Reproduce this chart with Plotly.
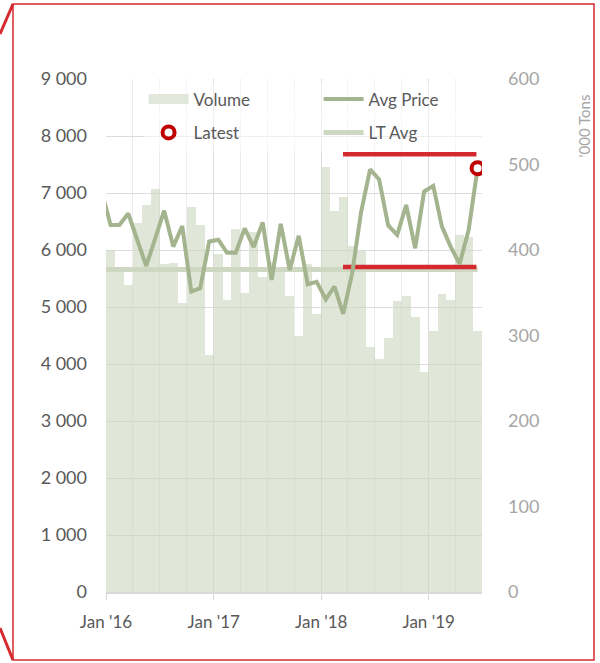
import pandas as pd
import plotly.graph_objects as go

# monthly volume ('000 tons), Jan 2016 - Jun 2019
months = pd.date_range("2016-01-01", "2019-06-01", freq="MS")
volume = [400, 377, 359, 432, 453, 471, 384, 385, 338, 450, 429, 277,
          395, 341, 425, 350, 421, 368, 386, 380, 346, 299, 384, 325,
          497, 446, 462, 405, 399, 287, 272, 297, 340, 346, 322, 257,
          305, 348, 342, 418, 415, 305]

# avg price, Dec 2015 - Jun 2019 (first point sits just off the axis start)
price_months = pd.date_range("2015-12-01", "2019-06-01", freq="MS")
avg_price = [7050,
             6440, 6440, 6640, 6180, 5720, 6200, 6690, 6060, 6420, 5270, 5330, 6150,
             6180, 5950, 5950, 6380, 6050, 6485, 5475, 6460, 5650, 6250, 5400, 5440,
             5135, 5360, 4880, 5590, 6670, 7415, 7240, 6430, 6265, 6790, 6030, 7025,
             7125, 6410, 6060, 5755, 6350, 7435]
lt_avg = 5660

band_x = ["2018-03-16", "2019-06-12"]
band_hi = 7680
band_lo = 5700

year_ticks = ["2016-01-01", "2017-01-01", "2018-01-01", "2019-01-01"]
year_labels = ["Jan '16", "Jan '17", "Jan '18", "Jan '19"]

FONT = "Lato"
DARK = "#595959"
LIGHT = "#a6a6a6"
RED = "#d42a2f"
BAR = "rgba(204,215,192,0.6)"

# each bar spans its whole month
bar_widths = [float(d) * 86400000.0 for d in months.days_in_month]

fig = go.Figure()
fig.add_trace(go.Bar(
    x=months, y=volume, name="Volume", yaxis="y",
    xperiod="M1", xperiodalignment="middle",
    marker={"color": BAR, "line": {"width": 0}},
    width=bar_widths, showlegend=False,
))
# wide flat swatch for the volume legend entry (no data)
fig.add_trace(go.Scatter(
    x=[None], y=[None], name="Volume", yaxis="y", mode="lines",
    line={"color": "#e2e7dc", "width": 12}, legend="legend", legendrank=1,
))
fig.add_trace(go.Scatter(
    x=price_months, y=[lt_avg] * len(price_months), name="LT Avg", yaxis="y2",
    xperiod="M1", xperiodalignment="middle", mode="lines",
    line={"color": "#cdd7c2", "width": 5}, legend="legend2", legendrank=2,
))
for level in (band_hi, band_lo):
    fig.add_trace(go.Scatter(
        x=band_x, y=[level, level], yaxis="y2", mode="lines",
        line={"color": RED, "width": 4.5}, showlegend=False, hoverinfo="skip",
    ))
fig.add_trace(go.Scatter(
    x=price_months, y=avg_price, name="Avg Price", yaxis="y2",
    xperiod="M1", xperiodalignment="middle", mode="lines",
    line={"color": "#a4b48e", "width": 4}, legend="legend", legendrank=2,
))
fig.add_trace(go.Scatter(
    x=price_months[-1:], y=avg_price[-1:], name="Latest", yaxis="y2",
    xperiod="M1", xperiodalignment="middle", mode="markers",
    marker={"size": 12, "color": "white", "line": {"color": "#c00000", "width": 4}},
    legend="legend2", legendrank=1,
))


# red frame with the little diagonal edges on the left (pixel -> paper)
def px_x(v):
    return (v - 106) / 376


def px_y(v):
    return (592 - v) / 513


fig.add_shape(type="rect", xref="paper", yref="paper",
              x0=px_x(13), x1=px_x(594), y0=px_y(4), y1=px_y(660),
              line={"color": RED, "width": 1.5})
fig.add_shape(type="line", xref="paper", yref="paper",
              x0=px_x(0), x1=px_x(13), y0=px_y(34), y1=px_y(4), line={"color": RED, "width": 3})
fig.add_shape(type="line", xref="paper", yref="paper",
              x0=px_x(0), x1=px_x(13), y0=px_y(628), y1=px_y(660), line={"color": RED, "width": 3})

fig.add_annotation(
    text="'000 Tons", xref="paper", yref="paper", x=px_x(583), y=px_y(93),
    xanchor="center", yanchor="top", textangle=-90, showarrow=False,
    font={"family": FONT, "size": 15, "color": LIGHT},
)

leg = {
    "orientation": "h", "x": 0.10, "xanchor": "left", "yanchor": "top",
    "bgcolor": "rgba(255,255,255,0.5)", "entrywidth": 120, "itemwidth": 40,
    "font": {"family": FONT, "size": 17, "color": DARK},
}

fig.update_layout(
    width=600, height=663,
    margin={"l": 106, "r": 118, "t": 79, "b": 71},
    paper_bgcolor="white", plot_bgcolor="white",
    separators=". ",
    bargap=0,
    showlegend=True,
    font={"family": FONT, "color": DARK, "size": 17},
    legend={**leg, "y": 0.995},
    legend2={**leg, "y": 0.93},
    xaxis={
        "type": "date", "range": ["2016-01-01", "2019-07-01"],
        "tickvals": year_ticks, "ticktext": year_labels,
        "showgrid": True, "gridcolor": "#dcdcdc", "gridwidth": 1,
        "minor": {"dtick": "M3", "tick0": "2016-01-01", "showgrid": True, "gridcolor": "#ececec"},
        "showline": True, "linecolor": "#d9d9d9", "linewidth": 1.5,
        "ticks": "outside", "ticklen": 6, "tickcolor": "#d9d9d9",
        "ticklabelstandoff": 8,
        "tickfont": {"family": FONT, "size": 17, "color": DARK},
        "zeroline": False,
    },
    yaxis={
        "side": "right", "range": [0, 600], "dtick": 100, "showgrid": False,
        "zeroline": False, "ticks": "", "ticklabelstandoff": 25,
        "tickfont": {"family": FONT, "size": 18, "color": LIGHT},
    },
    yaxis2={
        "overlaying": "y", "side": "left", "range": [0, 9000], "dtick": 1000,
        "tickformat": ",d", "showgrid": True, "gridcolor": "#dcdcdc",
        "zeroline": False, "ticks": "", "ticklabelstandoff": 18,
        "tickfont": {"family": FONT, "size": 18, "color": DARK},
    },
)

fig.write_html("out.html", config={"displayModeBar": False},
               post_script="document.body.style.margin='0';")
